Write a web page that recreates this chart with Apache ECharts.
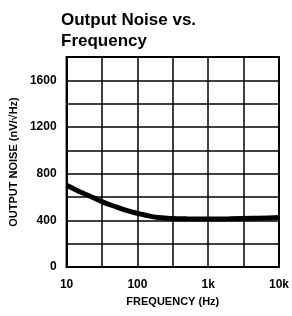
<!DOCTYPE html>
<html>
<head>
<meta charset="utf-8">
<script src="https://cdn.jsdelivr.net/npm/echarts@6/dist/echarts.min.js"></script>
<style>
html, body { margin: 0; padding: 0; background: #fff; }
#main { width: 292px; height: 316px; }
</style>
</head>
<body>
<div id="main"></div>
<script>
// frequency (Hz) and output noise (nV/rtHz)
var freq = [10, 15, 20, 31.6, 50, 70, 100, 150, 200, 300, 500, 1000, 2000, 5000, 10000];
var noise = [700, 648, 615, 560, 515, 485, 460, 436, 424, 416, 413, 412, 413, 418, 425];
var xLabels = {10: '10', 100: '100', 1000: '1k', 10000: '10k'};

var font = '"Liberation Sans", Arial, sans-serif';
var pts = [];
for (var i = 0; i < freq.length; i++) {
    pts.push([freq[i], noise[i]]);
}

var myChart = echarts.init(document.getElementById('main'));
var option = {
    animation: false,
    title: {
        text: 'Output Noise vs.\nFrequency',
        left: 56,
        top: 5,
        textStyle: {
            fontFamily: font,
            fontSize: 17,
            fontWeight: 'bold',
            lineHeight: 21,
            color: '#000'
        }
    },
    grid: {
        left: 65,
        right: 13,
        top: 57,
        bottom: 49,
        show: true,
        borderColor: '#000',
        borderWidth: 2
    },
    xAxis: {
        type: 'log',
        logBase: Math.sqrt(10),  // gridlines every half decade
        min: 10,
        max: 10000,
        name: 'FREQUENCY (Hz)',
        nameLocation: 'middle',
        nameGap: 29,
        nameTextStyle: { fontFamily: font, fontSize: 11, fontWeight: 'bold', color: '#000' },
        axisLine: { lineStyle: { color: '#000', width: 2 } },
        axisTick: { show: false },
        axisLabel: {
            margin: 12,
            fontFamily: font,
            fontSize: 12,
            fontWeight: 'bold',
            color: '#000',
            formatter: function (v) {
                var k = Math.round(Math.log(v) / Math.LN10 * 2);
                if (k % 2) return '';
                return xLabels[Math.pow(10, k / 2)] || '';
            }
        },
        splitLine: { show: true, lineStyle: { color: '#000', width: 1.5 } }
    },
    yAxis: {
        type: 'value',
        min: 0,
        max: 1800,
        interval: 200,
        name: 'OUTPUT NOISE (nV/√Hz)',
        nameLocation: 'middle',
        nameGap: 46,
        nameTextStyle: { fontFamily: font, fontSize: 11, fontWeight: 'bold', color: '#000' },
        axisLine: { show: true, lineStyle: { color: '#000', width: 2 } },
        axisTick: { show: false },
        axisLabel: {
            margin: 10,
            fontFamily: font,
            fontSize: 12,
            fontWeight: 'bold',
            color: '#000',
            formatter: function (v) {
                return v % 400 == 0 ? String(v) : '';
            }
        },
        splitLine: { show: true, lineStyle: { color: '#000', width: 1.5 } }
    },
    series: [
        {
            type: 'line',
            data: pts,
            smooth: true,
            showSymbol: false,
            lineStyle: { color: '#000', width: 5 }
        }
    ]
};
myChart.setOption(option);
</script>
</body>
</html>
